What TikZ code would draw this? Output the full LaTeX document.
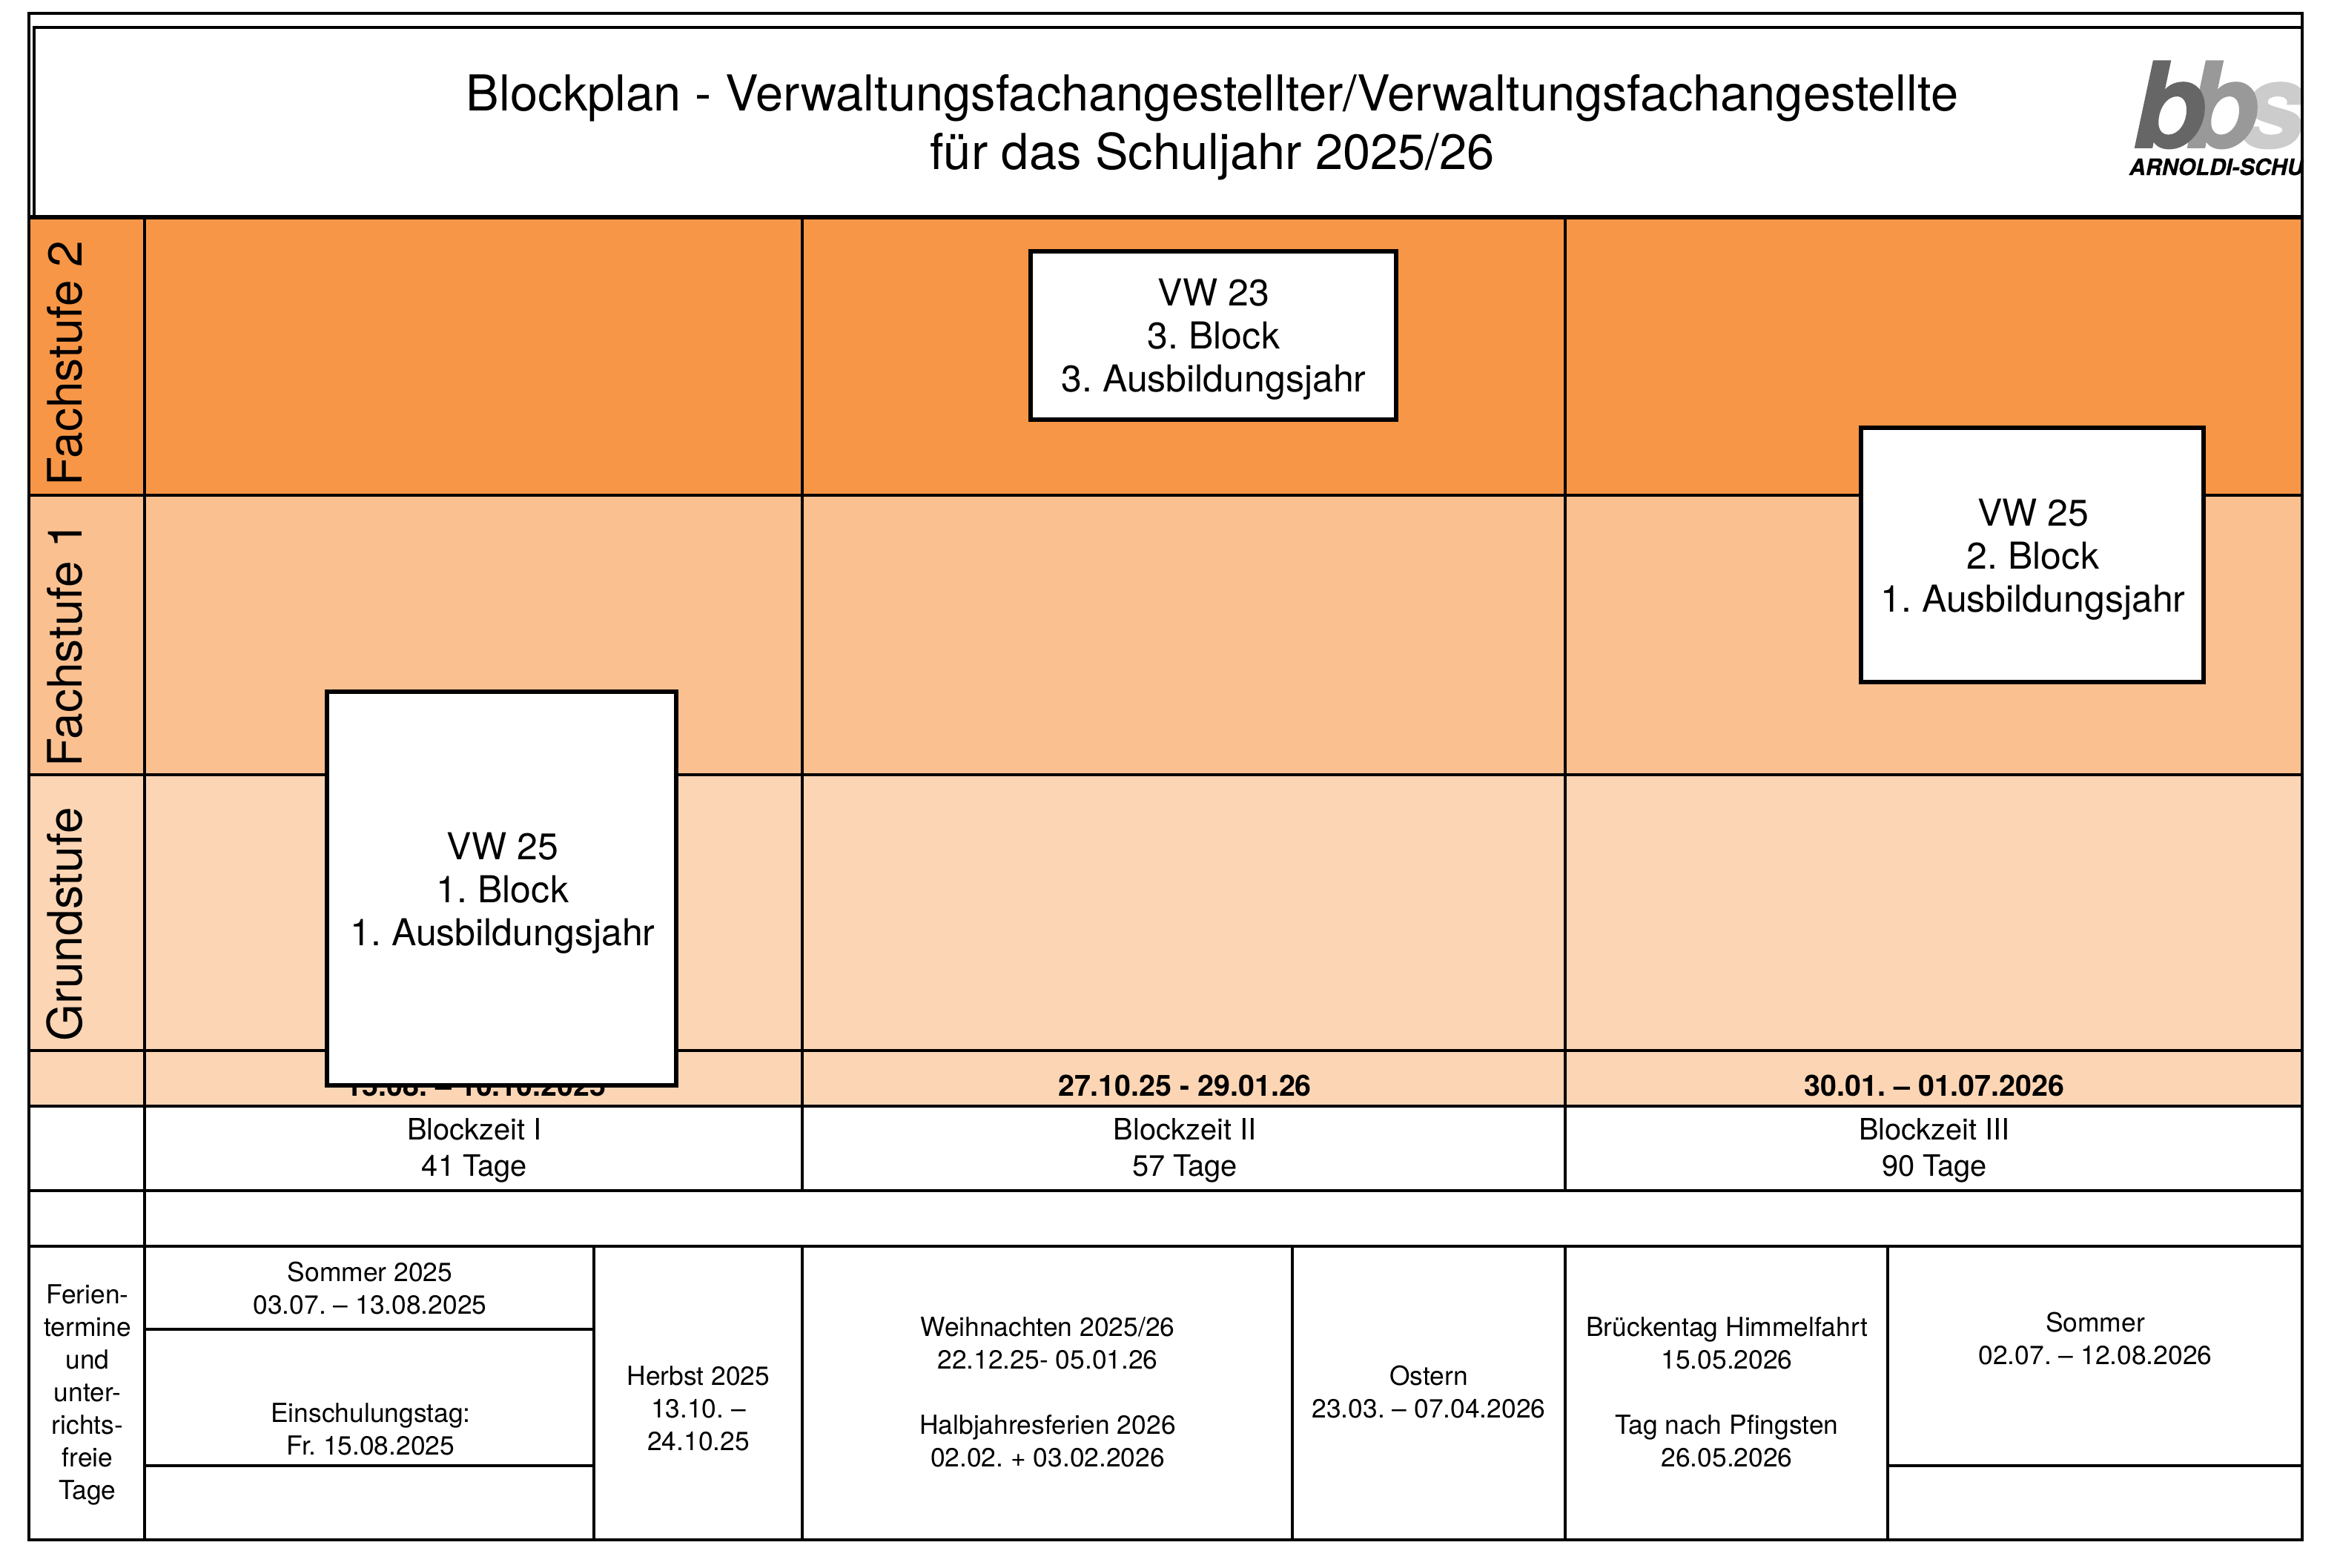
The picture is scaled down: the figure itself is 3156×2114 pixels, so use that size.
\documentclass[tikz,border=0pt]{standalone}
\usepackage{fontspec}
\setmainfont{TeX Gyre Heros}
\definecolor{fs2}{HTML}{F79646}
\definecolor{fs1}{HTML}{FAC090}
\definecolor{gs}{HTML}{FCD5B5}
\tikzset{
  txt/.style={inner sep=0pt,outer sep=0pt,anchor=base,align=center},
  titletext/.style={txt,font=\frenchspacing\fontsize{16.7}{19.6}\selectfont},
  blocktext/.style={txt,font=\frenchspacing\fontsize{12.5}{14.4}\selectfont},
  stufe/.style={txt,rotate=90,font=\fontsize{16}{18}\selectfont},
  datetext/.style={txt,font=\frenchspacing\fontsize{9.85}{12}\selectfont\bfseries},
  zeittext/.style={txt,font=\frenchspacing\fontsize{9.95}{12.25}\selectfont},
  smalltext/.style={txt,font=\frenchspacing\fontsize{8.85}{11}\selectfont},
  rule/.style={line width=1.05pt,black},
  thinrule/.style={line width=0.85pt,black},
  blockbox/.style={fill=white,draw=black,line width=1.6pt},
  logoletter/.style={inner sep=0pt,anchor=base west,font=\fontsize{40}{40}\selectfont\bfseries\itshape\addfontfeature{FakeBold=1.2}},
}
\begin{document}
\begin{tikzpicture}[x=0.25pt,y=-0.25pt]
\useasboundingbox (0,0) rectangle (3156,2114);
% background bands
\fill[fs2] (39,293) rectangle (3105,668);
\fill[fs1] (39,668) rectangle (3105,1045);
\fill[gs] (39,1045) rectangle (3105,1492);
% logo
\begin{scope}
\clip (2800,60) rectangle (3107,260);
\node[logoletter,text=black!20] (logos) at (3019,199) {s};
\node[logoletter,text=black!40] (logob2) at (2947,199) {b};
\node[logoletter,text=black!60] (logob1) at (2876,199) {b};
\node[inner sep=0pt,anchor=base west,font=\fontsize{7.6}{8}\selectfont\bfseries\itshape\addfontfeature{FakeBold=0.6}] (logotext) at (2871,236) {ARNOLDI-SCHULE};
\fill[red!85!black] (3105,113) rectangle (3107,123);
\end{scope}
% title frame
\draw[rule] (46,293) -- (46,37) -- (3105,37);
\draw[rule,line width=1.5pt] (39,293) -- (3105,293);
% table rules
\draw[rule] (39,18) rectangle (3105,2077);
\foreach \yy in {668,1045,1417,1492,1606,1681}{\draw[rule] (39,\yy) -- (3105,\yy);}
\draw[thinrule] (195,293) -- (195,2077);
\draw[thinrule] (1082,293) -- (1082,1606);
\draw[thinrule] (2111,293) -- (2111,1606);
\draw[thinrule] (801,1681) -- (801,2077);
\draw[thinrule] (1082,1681) -- (1082,2077);
\draw[thinrule] (1743,1681) -- (1743,2077);
\draw[thinrule] (2111,1681) -- (2111,2077);
\draw[thinrule] (2546,1681) -- (2546,2077);
\draw[rule] (195,1793) -- (801,1793);
\draw[rule] (195,1977) -- (801,1977);
\draw[rule] (2546,1977) -- (3105,1977);
% title
\node[titletext] (title) at (1635,228) {Blockplan - Verwaltungsfachangestellter/Verwaltungsfachangestellte\\für das Schuljahr 2025/26};
% level labels
\node[stufe] (fs2) at (110,490) {Fachstufe 2};
\node[stufe] (fs1) at (110,869) {Fachstufe 1};
\node[stufe] (gs) at (110,1247) {Grundstufe};
% dates
\node[datetext] (d1) at (642,1478) {15.08. – 10.10.2025};
\node[datetext] (d2) at (1598,1478) {27.10.25 - 29.01.26};
\node[datetext] (d3) at (2609,1478) {30.01. – 01.07.2026};
% blocks
\draw[blockbox] (441,933) rectangle (912,1464);
\node[blocktext] (b1) at (678,1275) {VW 25\\1. Block\\1. Ausbildungsjahr};
\draw[blockbox] (1390,339) rectangle (1883,566);
\node[blocktext] (b3) at (1637,528) {VW 23\\3. Block\\3. Ausbildungsjahr};
\draw[blockbox] (2510,577) rectangle (2972,920);
\node[blocktext] (b2) at (2742,825) {VW 25\\2. Block\\1. Ausbildungsjahr};
% Blockzeit
\node[zeittext] (z1) at (640,1586) {Blockzeit I\\41 Tage};
\node[zeittext] (z2) at (1598,1586) {Blockzeit II\\57 Tage};
\node[zeittext] (z3) at (2609,1586) {Blockzeit III\\90 Tage};
% holidays
\node[smalltext] (f0) at (118,2022) {Ferien-\\termine\\und\\unter-\\richts-\\freie\\Tage};
\node[smalltext] (f1) at (499,1772) {Sommer 2025\\03.07. – 13.08.2025};
\node[smalltext] (f2) at (500,1962) {Einschulungstag:\\Fr. 15.08.2025};
\node[smalltext] (f3) at (942,1956) {Herbst 2025\\13.10. –\\24.10.25};
\node[smalltext] (f4) at (1413,1978) {Weihnachten 2025/26\\22.12.25- 05.01.26\\[11pt]Halbjahresferien 2026\\02.02. + 03.02.2026};
\node[smalltext] (f5) at (1927,1912) {Ostern\\23.03. – 07.04.2026};
\node[smalltext] (f6) at (2329,1978) {Brückentag Himmelfahrt\\15.05.2026\\[11pt]Tag nach Pfingsten\\26.05.2026};
\node[smalltext] (f7) at (2826,1840) {Sommer\\02.07. – 12.08.2026};
\end{tikzpicture}
\end{document}
